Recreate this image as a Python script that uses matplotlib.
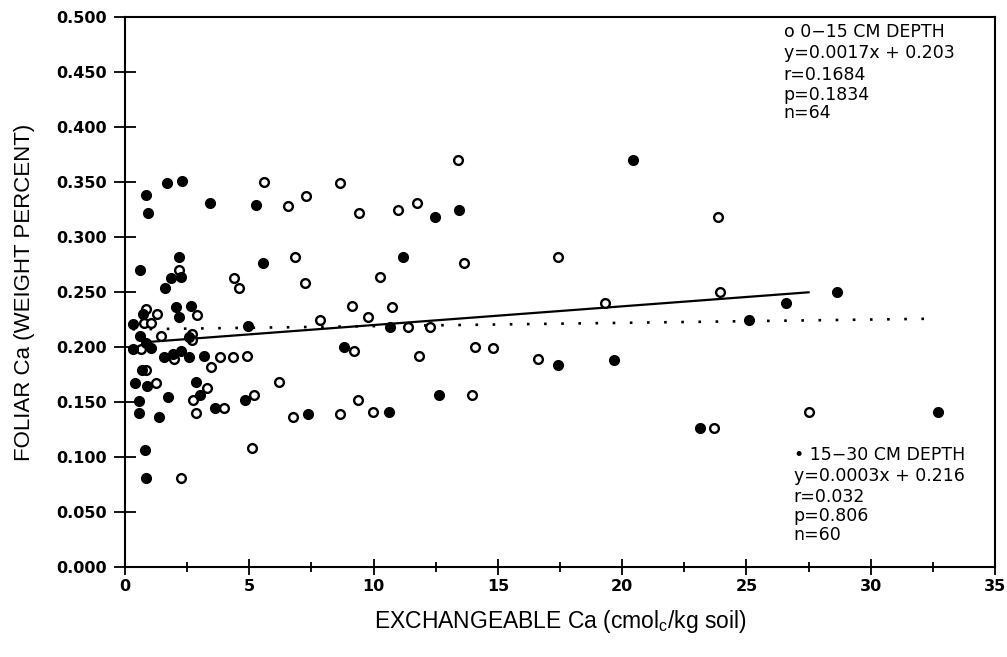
import numpy as np
import matplotlib.pyplot as plt
from matplotlib.ticker import MultipleLocator, FormatStrFormatter

# 0-15 cm depth (open circles)
x_shallow = [2.17, 0.84, 1.29, 2.9, 0.76, 1.05, 1.45, 2.69, 2.69, 0.64, 1.97, 3.46, 3.82,
             0.84, 1.25, 3.3, 2.73, 2.85, 3.98, 2.25, 4.38, 4.58, 7.24, 7.84, 4.34, 4.9,
             6.19, 5.19, 6.76, 5.1, 13.39, 8.64, 7.3, 6.55, 9.41, 10.98, 11.74, 6.84,
             13.63, 10.25, 9.13, 10.74, 9.77, 11.38, 12.26, 9.21, 11.82, 14.07, 14.8,
             13.95, 9.37, 8.64, 9.97, 23.84, 17.41, 19.3, 23.92, 16.61, 27.5, 23.68, 5.59]
y_shallow = [0.270, 0.235, 0.230, 0.229, 0.222, 0.222, 0.210, 0.212, 0.206, 0.198, 0.189,
             0.182, 0.191, 0.179, 0.167, 0.163, 0.152, 0.140, 0.145, 0.081, 0.263, 0.254,
             0.258, 0.225, 0.191, 0.192, 0.168, 0.156, 0.136, 0.108, 0.370, 0.349, 0.337,
             0.328, 0.322, 0.325, 0.331, 0.282, 0.276, 0.264, 0.237, 0.236, 0.227, 0.218,
             0.218, 0.196, 0.192, 0.200, 0.199, 0.156, 0.152, 0.139, 0.141, 0.318, 0.282,
             0.240, 0.250, 0.189, 0.141, 0.126, 0.350]

# 15-30 cm depth (filled circles)
x_deep = [1.69, 2.29, 0.84, 0.92, 3.42, 2.17, 0.60, 1.85, 2.25, 1.61, 0.72, 2.05, 2.65,
          2.17, 0.32, 0.60, 0.84, 1.05, 2.57, 0.32, 1.57, 1.93, 2.25, 2.57, 3.18, 0.68,
          0.4, 0.88, 1.73, 2.85, 3.02, 0.56, 0.56, 1.37, 3.62, 0.8, 0.84, 4.95, 4.83,
          7.36, 12.46, 13.43, 11.18, 10.66, 8.81, 12.63, 10.62, 20.43, 28.63, 26.58,
          25.09, 17.41, 19.66, 32.69, 23.12, 5.27, 5.55]
y_deep = [0.349, 0.351, 0.338, 0.322, 0.331, 0.282, 0.270, 0.263, 0.264, 0.254, 0.230,
          0.236, 0.237, 0.227, 0.221, 0.210, 0.204, 0.199, 0.209, 0.198, 0.191, 0.194,
          0.196, 0.191, 0.192, 0.179, 0.167, 0.165, 0.155, 0.168, 0.156, 0.151, 0.140,
          0.136, 0.145, 0.106, 0.081, 0.219, 0.152, 0.139, 0.318, 0.325, 0.282, 0.218,
          0.200, 0.156, 0.141, 0.370, 0.250, 0.240, 0.225, 0.184, 0.188, 0.141, 0.126,
          0.329, 0.276]

# regression fits
slope_shallow, icpt_shallow = 0.0017, 0.203
slope_deep, icpt_deep = 0.0003, 0.216
fit_range_shallow = [0.8, 27.5]
fit_range_deep = [0.3, 32.7]

plt.rcParams['font.family'] = ['Liberation Sans', 'DejaVu Sans']

fig = plt.figure(figsize=(10.07, 6.57), dpi=100)
ax = fig.add_axes([0.1241, 0.137, 0.864, 0.837])

ax.plot(x_shallow, y_shallow, 'o', mfc='white', mec='black', mew=1.7, ms=6.3, zorder=3)
ax.plot(x_deep, y_deep, 'o', mfc='black', mec='black', ms=7, zorder=3)

xs = np.array(fit_range_shallow)
ax.plot(xs, slope_shallow * xs + icpt_shallow, color='black', lw=1.6, zorder=2)
xd = np.array(fit_range_deep)
ax.plot(xd, slope_deep * xd + icpt_deep, color='black', lw=1.9,
        linestyle=(0, (1, 5.5)), zorder=2)

ax.set_xlim(0, 35)
ax.set_ylim(0, 0.5)
ax.xaxis.set_major_locator(MultipleLocator(5))
ax.xaxis.set_minor_locator(MultipleLocator(2.5))
ax.yaxis.set_major_locator(MultipleLocator(0.05))
ax.yaxis.set_major_formatter(FormatStrFormatter('%.3f'))
ax.tick_params(axis='y', which='major', direction='inout', length=16, width=1.3,
               labelsize=11.5, pad=5)
ax.tick_params(axis='x', which='major', direction='inout', length=12, width=1.3,
               labelsize=11.5, pad=3)
ax.tick_params(axis='x', which='minor', direction='inout', length=7, width=1.3)
for lab in ax.get_xticklabels() + ax.get_yticklabels():
    lab.set_fontweight('bold')
    lab.set_family('DejaVu Sans')
for s in ax.spines.values():
    s.set_linewidth(1.5)

ax.set_xlabel('EXCHANGEABLE Ca (cmol$_\\mathregular{c}$/kg soil)', fontsize=16.5)
ax.xaxis.set_label_coords(0.5, -0.075)
ax.set_ylabel('FOLIAR Ca (WEIGHT PERCENT)', fontsize=16)
ax.yaxis.set_label_coords(-0.103, 0.5)

top_txt = ['o 0\u221215 CM DEPTH', 'y=0.0017x + 0.203', 'r=0.1684', 'p=0.1834', 'n=64']
top_y = [0.486, 0.467, 0.447, 0.4295, 0.4125]
for t, yy in zip(top_txt, top_y):
    ax.text(26.5, yy, t, fontsize=12.5, va='center', ha='left', family='DejaVu Sans')

bot_txt = ['\u2022 15\u221230 CM DEPTH', 'y=0.0003x + 0.216', 'r=0.032', 'p=0.806', 'n=60']
bot_y = [0.102, 0.083, 0.064, 0.0465, 0.0295]
for t, yy in zip(bot_txt, bot_y):
    ax.text(26.9, yy, t, fontsize=12.5, va='center', ha='left', family='DejaVu Sans')

fig.savefig('out.png', dpi=100)
